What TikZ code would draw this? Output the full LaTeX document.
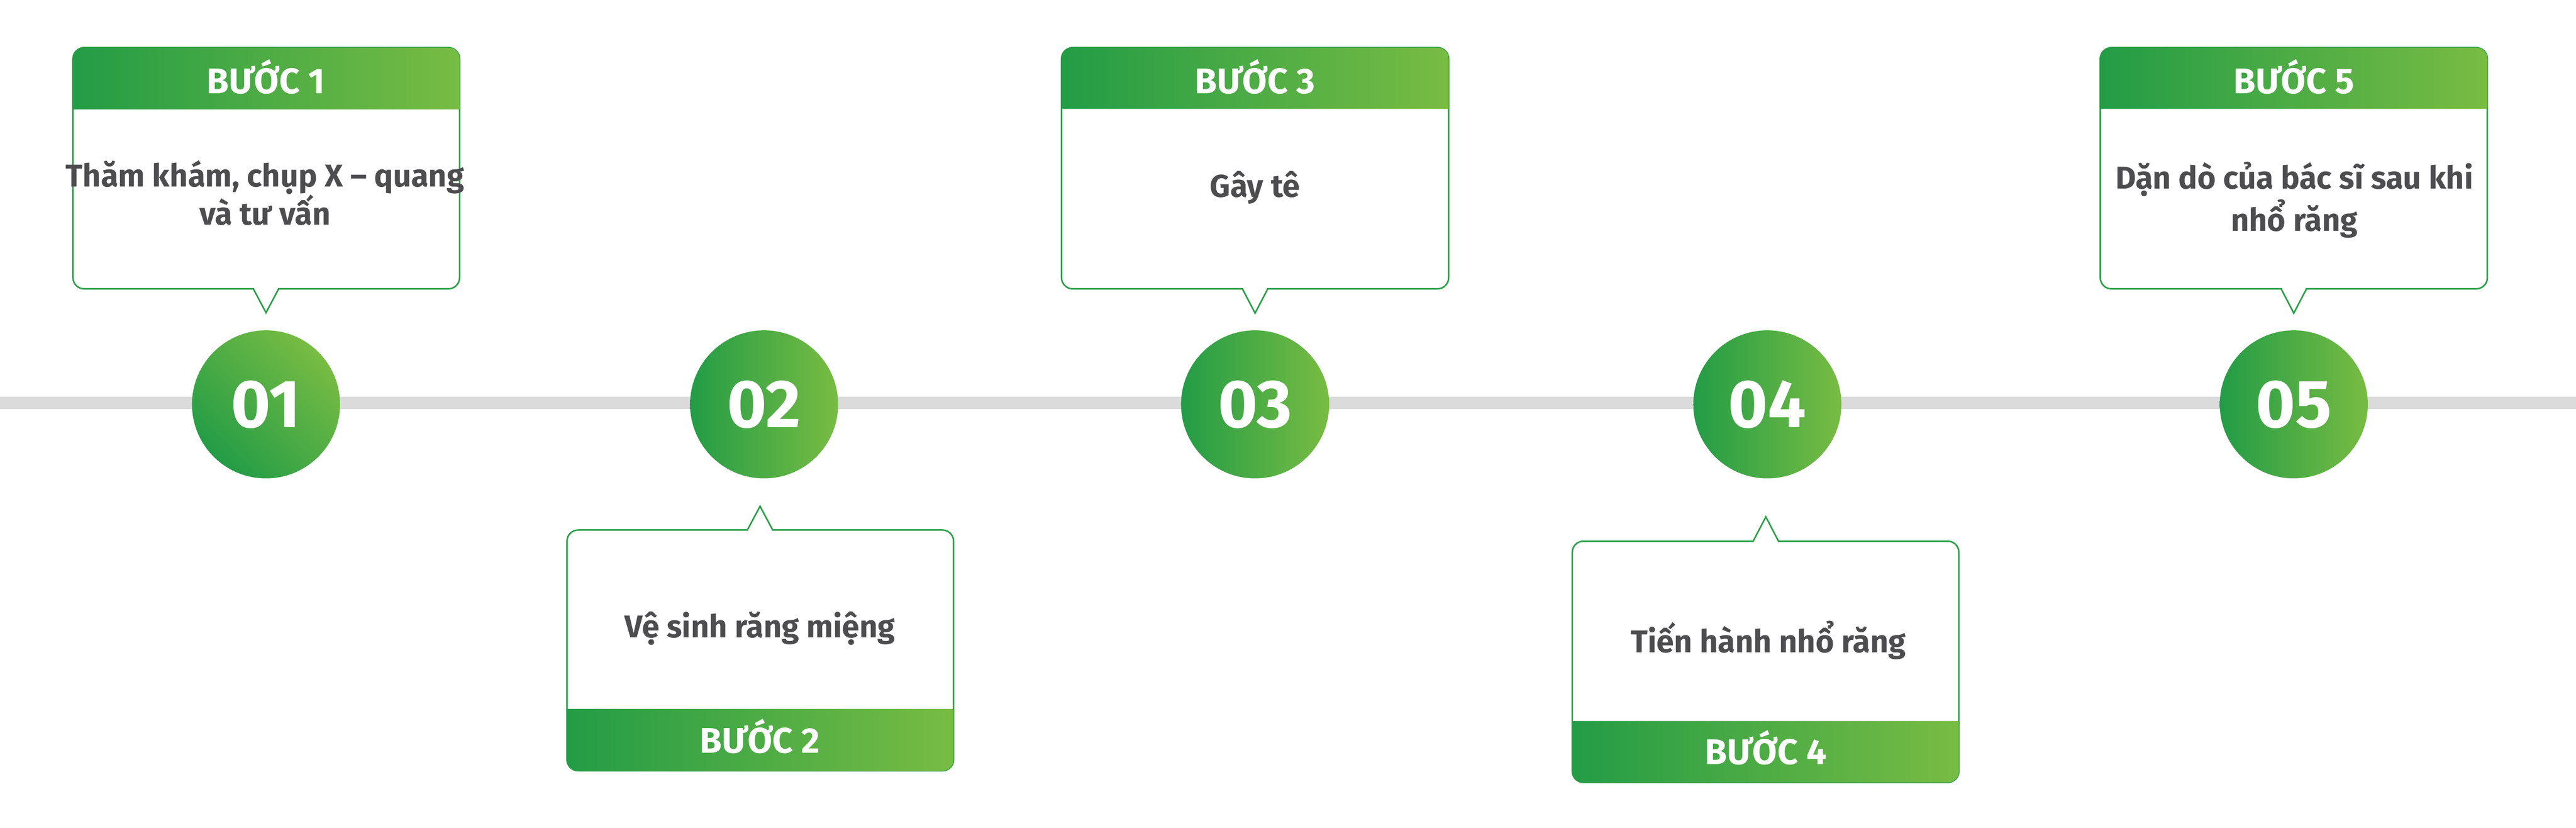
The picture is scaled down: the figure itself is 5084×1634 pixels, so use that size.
\documentclass[tikz,border=0pt]{standalone}
\usepackage{fontspec}
\setmainfont{Fira Sans}
\usepackage{xcolor}
\usepackage{tikz}
\usetikzlibrary{shapes.geometric}
\usetikzlibrary{arrows}

\definecolor{stepdark}{RGB}{35,156,70}
\definecolor{steplight}{RGB}{120,188,67}
\definecolor{stepedge}{RGB}{43,160,72}
\definecolor{steptext}{RGB}{77,77,79}
\definecolor{stepline}{RGB}{220,219,220}

\begin{document}
\begin{tikzpicture}[x=0.01cm, y=-0.01cm,
        boxline/.style={draw=stepedge, line width=0.3mm, fill=white},
        headfill/.style={left color=stepdark, right color=steplight},
        stepnum/.style={circle, minimum size=29.2mm, inner sep=0pt,
            left color=stepdark, right color=steplight, text=white,
            font=\fontsize{38}{40}\selectfont\bfseries},
        steptitle/.style={anchor=base, text=white,
            font=\fontsize{20}{24}\selectfont\bfseries},
        stepbody/.style={anchor=base, align=center, text=steptext,
            font=\fontsize{17.7}{21.5}\selectfont\bfseries}]

        \path[fill=white, use as bounding box] (0, 0) rectangle (5084, 1634);
        \coordinate (lineL) at (0, 795);
        \coordinate (lineR) at (5084, 795);
        \draw[stepline, line width=2.4mm] (lineL) -- (lineR);

        % buoc 1
        \draw[boxline] (525, 617) -- (500, 570) [rounded corners=2.2mm] -- (144, 570)
            -- (144, 94) -- (907, 94) -- (907, 570) [sharp corners] -- (550, 570) -- cycle;
        \shade[headfill] (144, 216) [rounded corners=2.2mm] -- (144, 94) -- (907, 94)
            [sharp corners] -- (907, 216) -- cycle;
        \node[steptitle] (title1) at (525, 185) {BƯỚC 1};
        \node[stepbody] (body1) at (523, 444) {Thăm khám, chụp X – quang\\và tư vấn};
        \node[stepnum, shading angle=135] (num1) at (525, 798) {01};

        % buoc 2
        \draw[boxline] (1500, 999) -- (1475, 1046) [rounded corners=2.2mm] -- (1119, 1046)
            -- (1119, 1521) -- (1882, 1521) -- (1882, 1046) [sharp corners] -- (1525, 1046) -- cycle;
        \shade[headfill] (1119, 1399) [rounded corners=2.2mm] -- (1119, 1521) -- (1882, 1521)
            [sharp corners] -- (1882, 1399) -- cycle;
        \node[steptitle] (title2) at (1500, 1486) {BƯỚC 2};
        \node[stepbody] (body2) at (1500, 1258) {Vệ sinh răng miệng};
        \node[stepnum] (num2) at (1508, 798) {02};

        % buoc 3
        \draw[boxline] (2477, 618) -- (2452, 570) [rounded corners=2.2mm] -- (2095, 570)
            -- (2095, 94) -- (2859, 94) -- (2859, 570) [sharp corners] -- (2502, 570) -- cycle;
        \shade[headfill] (2095, 215) [rounded corners=2.2mm] -- (2095, 94) -- (2859, 94)
            [sharp corners] -- (2859, 215) -- cycle;
        \node[steptitle] (title3) at (2477, 185) {BƯỚC 3};
        \node[stepbody] (body3) at (2477, 389) {Gây tê};
        \node[stepnum] (num3) at (2477, 798) {03};

        % buoc 4
        \draw[boxline] (3485, 1020) -- (3460, 1068) [rounded corners=2.2mm] -- (3103, 1068)
            -- (3103, 1544) -- (3866, 1544) -- (3866, 1068) [sharp corners] -- (3510, 1068) -- cycle;
        \shade[headfill] (3103, 1423) [rounded corners=2.2mm] -- (3103, 1544) -- (3866, 1544)
            [sharp corners] -- (3866, 1423) -- cycle;
        \node[steptitle] (title4) at (3485, 1508) {BƯỚC 4};
        \node[stepbody] (body4) at (3490, 1288) {Tiến hành nhổ răng};
        \node[stepnum] (num4) at (3488, 798) {04};

        % buoc 5
        \draw[boxline] (4527, 618) -- (4502, 570) [rounded corners=2.2mm] -- (4145, 570)
            -- (4145, 94) -- (4909, 94) -- (4909, 570) [sharp corners] -- (4552, 570) -- cycle;
        \shade[headfill] (4145, 215) [rounded corners=2.2mm] -- (4145, 94) -- (4909, 94)
            [sharp corners] -- (4909, 215) -- cycle;
        \node[steptitle] (title5) at (4527, 185) {BƯỚC 5};
        \node[stepbody, font=\fontsize{17.7}{23.8}\selectfont\bfseries] (body5) at (4528, 456)
            {Dặn dò của bác sĩ sau khi\\nhổ răng};
        \node[stepnum] (num5) at (4527, 798) {05};
\end{tikzpicture}
\end{document}
